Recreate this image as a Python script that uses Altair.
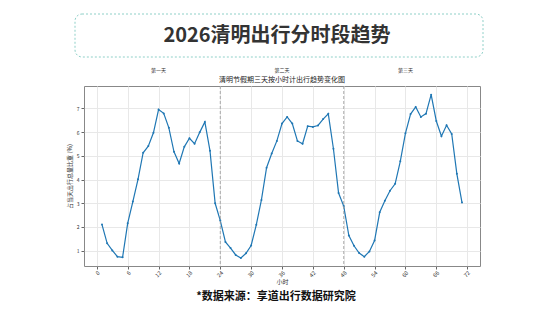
import altair as alt
import pandas as pd

hours = list(range(1, 72))
share = [2.10, 1.31, 1.01, 0.75, 0.72, 2.16, 3.07, 4.01, 5.13, 5.41, 5.97, 6.95, 6.79, 6.18, 5.17, 4.68,
         5.38, 5.74, 5.51, 5.99, 6.43, 5.21, 3.00, 2.27, 1.37, 1.11, 0.82, 0.69, 0.89, 1.22, 2.09, 3.14,
         4.50, 5.10, 5.63, 6.36, 6.64, 6.36, 5.63, 5.51, 6.25, 6.22, 6.28, 6.55, 6.77, 5.30, 3.43, 2.88,
         1.64, 1.21, 0.90, 0.75, 0.97, 1.43, 2.62, 3.11, 3.53, 3.82, 4.77, 5.95, 6.76, 7.06, 6.64, 6.78,
         7.58, 6.47, 5.83, 6.29, 5.92, 4.24, 3.03]
day_names = ["第一天", "第二天", "第三天"]
day_centers = [12, 36, 60]
day_breaks = [24, 48]
x_ticks = list(range(0, 73, 6))

FONT = "Noto Sans CJK SC"
df = pd.DataFrame({"hour": hours, "share": share})
days = pd.DataFrame({"center": day_centers, "name": day_names})
breaks = pd.DataFrame({"b": day_breaks})

xs = alt.Scale(domain=[-2.5, 74.5], nice=False, zero=False)
ys = alt.Scale(domain=[0.355, 7.945], nice=False, zero=False)

x_axis = alt.Axis(values=x_ticks, title="小时", labelAngle=-45, labelFontSize=5.5,
                  labelOverlap=False, labelFlush=False, labelPadding=1,
                  titleFontSize=6, titleFontWeight="normal", grid=True,
                  gridColor="#e8e8e8", tickColor="#666", tickSize=3,
                  labelColor="#333", titleColor="#333", domain=False,
                  titleY=12, titleBaseline="top")

line = alt.Chart(df).mark_line(
    color="#1f77b4", strokeWidth=1.2,
    point=alt.OverlayMarkDef(color="#1f77b4", size=4, filled=True)
).encode(
    x=alt.X("hour:Q", scale=xs, axis=x_axis),
    y=alt.Y("share:Q", scale=ys,
            axis=alt.Axis(values=[1, 2, 3, 4, 5, 6, 7], title="占当天出行总量比重 (%)",
                          labelFontSize=5, titleFontSize=6, titleFontWeight="normal",
                          labelOverlap=False, labelFlush=False,
                          grid=True, gridColor="#e8e8e8", tickColor="#666", tickSize=3,
                          labelColor="#333", titleColor="#333", domain=False, titlePadding=4)),
)

rules = alt.Chart(breaks).mark_rule(color="#999", strokeDash=[3, 2], strokeWidth=0.8).encode(
    x=alt.X("b:Q", scale=xs, axis=x_axis)
)

day_text = alt.Chart(days).mark_text(font=FONT, fontSize=5, color="#333").encode(
    x=alt.X("center:Q", scale=xs, axis=x_axis), y=alt.value(-16), text="name:N"
)

box = alt.Chart(pd.DataFrame({"a": [0]})).mark_rect(
    fill="white", stroke="#8fd0c8", strokeDash=[2, 2], strokeWidth=1, cornerRadius=7
).encode(x=alt.value(-9), x2=alt.value(399), y=alt.value(-72), y2=alt.value(-29))

texts = pd.DataFrame({
    "t": ["2026清明出行分时段趋势", "清明节假期三天按小时计出行趋势变化图", "*数据来源：享道出行数据研究院"],
})
title_t = alt.Chart(texts.iloc[[0]]).mark_text(font=FONT, fontSize=20, fontWeight="bold",
                                               color="#333").encode(
    x=alt.value(193), y=alt.value(-50), text="t:N")
sub_t = alt.Chart(texts.iloc[[1]]).mark_text(font=FONT, fontSize=7, color="#222").encode(
    x=alt.value(198), y=alt.value(-6), text="t:N")
foot_t = alt.Chart(texts.iloc[[2]]).mark_text(font=FONT, fontSize=11, fontWeight="bold",
                                              color="#111").encode(
    x=alt.value(192), y=alt.value(211), text="t:N")

chart = alt.layer(line, rules, day_text, box, title_t, sub_t, foot_t).properties(
    width=396, height=180,
    autosize=alt.AutoSizeParams(type="none"),
    padding={"left": 84, "top": 86, "right": 73, "bottom": 45},
    background="white",
).configure_view(stroke="#888", strokeWidth=1).configure_axis(
    labelFont=FONT, titleFont=FONT
).configure_text(font=FONT)

chart.save("out.html", embed_options={"renderer": "svg", "actions": False})
